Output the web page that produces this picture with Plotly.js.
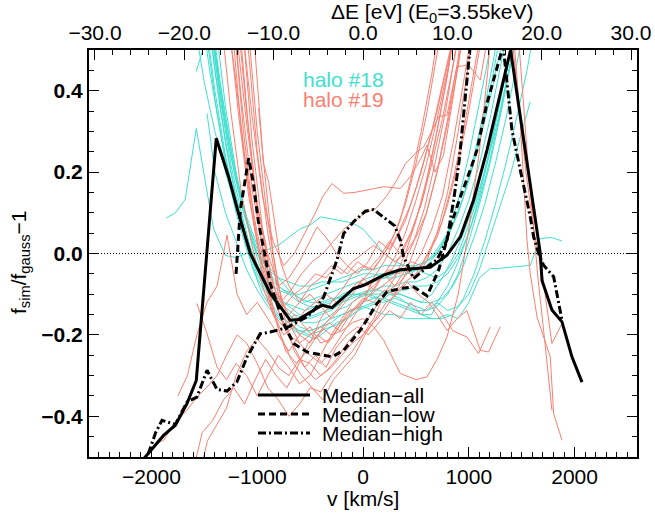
<!DOCTYPE html>
<html>
<head>
<meta charset="utf-8">
<script src="https://cdn.plot.ly/plotly-3.0.1.min.js"></script>
<style>html,body{margin:0;padding:0;background:#fff;}#chart{width:655px;height:514px;}</style>
</head>
<body>
<div id="chart"></div>
<script>
// ---- Median curves (v in km/s, y = f_sim/f_gauss - 1) ----
const medAllV = [-2150,-1885,-1774,-1664,-1576,-1387,-1270,-1176,-1065,-876,-688,-611,-388,-293,-89,6,195,353,636,794,920,1045,1172,1395,1676,1692,1786,1881,1975,2070];
const medAllY = [-0.528,-0.447,-0.422,-0.369,-0.312,0.283,0.188,0.098,0.0,-0.098,-0.164,-0.162,-0.127,-0.133,-0.086,-0.078,-0.053,-0.04,-0.034,-0.004,0.041,0.131,0.254,0.5,0.0,-0.066,-0.139,-0.168,-0.254,-0.316];

const medLowV = [-1200,-1160,-1081,-1034,-990,-939,-876,-750,-656,-529,-372,-293,-183,-26,132,227,353,478,605,715,825,920,1014,1077,1172,1314,1345];
const medLowY = [-0.05,0.106,0.234,0.17,0.08,0.008,-0.074,-0.172,-0.221,-0.242,-0.25,-0.254,-0.238,-0.189,-0.123,-0.094,-0.086,-0.082,-0.104,-0.041,0.065,0.139,0.205,0.254,0.369,0.5,0.56];

const medHighV = [-2080,-1960,-1900,-1774,-1664,-1570,-1474,-1380,-1285,-1191,-1096,-971,-876,-718,-600,-529,-450,-372,-246,-183,-89,22,100,195,300,353,384,416,478,605,700,794,857,910,960,1010,1100,1250,1329,1408,1487,1581,1613,1660,1707,1802,1881];
const medHighY = [-0.53,-0.44,-0.41,-0.42,-0.365,-0.353,-0.287,-0.334,-0.338,-0.315,-0.254,-0.197,-0.193,-0.182,-0.165,-0.156,-0.135,-0.107,-0.016,0.049,0.078,0.104,0.108,0.09,0.068,0.033,-0.008,-0.025,-0.062,-0.033,-0.015,0.033,0.131,0.23,0.37,0.5,0.7,0.7,0.5,0.303,0.205,0.09,0.041,0.0,-0.029,-0.057,-0.164];

// ---- Individual realisations, halo #18 (cyan): [v, y] pairs ----
const halo18Lines = [
 [[-1500,0.66],[-1400,0.45],[-1300,0.27],[-1200,0.14],[-1100,0.04],[-1000,-0.03],[-900,-0.08],[-800,-0.11],[-700,-0.13],[-600,-0.15],[-500,-0.16],[-400,-0.15],[-300,-0.14],[-200,-0.12],[-100,-0.11],[0,-0.1],[100,-0.09],[200,-0.08],[300,-0.08],[400,-0.07],[500,-0.07],[600,-0.06],[700,-0.04],[800,0.0],[900,0.06],[1000,0.13],[1100,0.22],[1200,0.33],[1300,0.46],[1400,0.6]],
 [[-1500,0.58],[-1400,0.38],[-1300,0.22],[-1200,0.1],[-1100,0.01],[-1000,-0.06],[-900,-0.11],[-800,-0.15],[-700,-0.17],[-600,-0.19],[-500,-0.2],[-400,-0.19],[-300,-0.18],[-200,-0.17],[-100,-0.15],[0,-0.13],[100,-0.12],[200,-0.12],[300,-0.11],[400,-0.12],[500,-0.13],[600,-0.14],[700,-0.13],[800,-0.1],[900,-0.05],[1000,0.03],[1100,0.12],[1200,0.22],[1300,0.34],[1400,0.47],[1500,0.6]],
 [[-1450,0.6],[-1350,0.4],[-1250,0.24],[-1150,0.12],[-1050,0.03],[-950,-0.03],[-850,-0.07],[-750,-0.09],[-650,-0.1],[-550,-0.12],[-450,-0.11],[-350,-0.1],[-250,-0.09],[-150,-0.08],[-50,-0.07],[50,-0.06],[150,-0.05],[250,-0.05],[350,-0.04],[450,-0.05],[550,-0.03],[650,-0.01],[750,0.02],[850,0.07],[950,0.14],[1050,0.24],[1150,0.36],[1250,0.5],[1350,0.64]],
 [[-1450,0.55],[-1350,0.36],[-1250,0.2],[-1150,0.07],[-1050,-0.03],[-950,-0.1],[-850,-0.14],[-750,-0.17],[-650,-0.19],[-550,-0.2],[-450,-0.21],[-350,-0.19],[-250,-0.17],[-150,-0.16],[-50,-0.14],[50,-0.13],[150,-0.12],[250,-0.1],[350,-0.1],[450,-0.11],[550,-0.12],[650,-0.1],[750,-0.06],[850,-0.01],[950,0.05],[1050,0.12],[1150,0.2],[1250,0.3],[1350,0.41],[1450,0.53]],
 [[-1400,0.58],[-1300,0.36],[-1200,0.2],[-1100,0.08],[-1000,0.0],[-900,-0.04],[-800,-0.06],[-700,-0.07],[-600,-0.08],[-500,-0.08],[-400,-0.07],[-300,-0.07],[-200,-0.06],[-100,-0.05],[0,-0.04],[100,-0.04],[200,-0.03],[300,-0.03],[400,-0.03],[500,-0.03],[600,-0.02],[700,0.0],[800,0.04],[900,0.1],[1000,0.18],[1100,0.28],[1200,0.4],[1300,0.54]],
 [[-1550,0.64],[-1450,0.45],[-1350,0.3],[-1250,0.17],[-1150,0.07],[-1050,-0.01],[-950,-0.07],[-850,-0.11],[-750,-0.14],[-650,-0.16],[-550,-0.17],[-450,-0.17],[-350,-0.16],[-250,-0.14],[-150,-0.13],[-50,-0.11],[50,-0.1],[150,-0.1],[250,-0.09],[350,-0.1],[450,-0.11],[550,-0.12],[650,-0.12],[750,-0.11],[850,-0.08],[950,-0.03],[1050,0.04],[1150,0.12],[1250,0.22],[1350,0.33],[1450,0.46],[1550,0.6]],
 [[-1450,0.62],[-1350,0.42],[-1250,0.26],[-1150,0.13],[-1050,0.03],[-950,-0.05],[-850,-0.1],[-750,-0.13],[-650,-0.15],[-550,-0.16],[-450,-0.15],[-350,-0.14],[-250,-0.13],[-150,-0.11],[-50,-0.1],[50,-0.09],[150,-0.09],[250,-0.1],[350,-0.11],[450,-0.13],[550,-0.15],[650,-0.16],[750,-0.16],[850,-0.15],[950,-0.11],[1050,-0.05],[1150,0.03],[1250,0.12],[1350,0.22],[1450,0.33],[1550,0.45],[1620,0.55]],
 [[-1500,0.7],[-1400,0.48],[-1300,0.31],[-1200,0.18],[-1100,0.08],[-1000,0.01],[-900,-0.04],[-800,-0.08],[-700,-0.1],[-600,-0.12],[-500,-0.13],[-400,-0.13],[-300,-0.12],[-200,-0.1],[-100,-0.09],[0,-0.08],[100,-0.07],[200,-0.06],[300,-0.06],[400,-0.05],[500,-0.04],[600,-0.05],[700,-0.06],[800,-0.04],[900,0.0],[1000,0.07],[1100,0.15],[1200,0.26],[1300,0.38],[1400,0.52]],
 [[-1400,0.5],[-1300,0.33],[-1200,0.19],[-1100,0.09],[-1000,0.02],[-900,-0.03],[-800,-0.06],[-700,-0.09],[-600,-0.11],[-500,-0.12],[-400,-0.12],[-300,-0.11],[-200,-0.11],[-100,-0.1],[0,-0.1],[100,-0.11],[200,-0.11],[300,-0.12],[400,-0.13],[500,-0.14],[600,-0.14],[700,-0.12],[800,-0.08],[900,-0.02],[1000,0.05],[1100,0.14],[1200,0.25],[1300,0.38],[1400,0.5],[1480,0.6]],
 [[-1500,0.6],[-1400,0.4],[-1300,0.24],[-1200,0.12],[-1100,0.02],[-1000,-0.05],[-900,-0.1],[-800,-0.13],[-700,-0.16],[-600,-0.18],[-500,-0.19],[-400,-0.18],[-300,-0.16],[-200,-0.15],[-100,-0.14],[0,-0.12],[100,-0.11],[200,-0.1],[300,-0.09],[400,-0.09],[500,-0.08],[600,-0.08],[700,-0.07],[800,-0.05],[900,-0.01],[1000,0.05],[1100,0.13],[1200,0.23],[1300,0.35],[1400,0.48],[1500,0.62]],
 [[-1860,0.087],[-1774,0.1],[-1680,0.133],[-1576,0.307],[-1480,0.16],[-1412,0.06],[-1360,0.03],[-1300,-0.005],[-1200,-0.01],[-1100,0.0],[-1000,0.0],[-900,0.01],[-800,0.02],[-700,0.04],[-600,0.06],[-500,0.07],[-400,0.09],[-300,0.085],[-200,0.08],[-100,0.075],[0,0.06],[100,0.03],[200,0.0],[300,-0.02],[400,-0.03],[500,-0.04],[600,-0.03],[700,0.0],[800,0.05],[900,0.13],[1000,0.24],[1100,0.37],[1200,0.5],[1260,0.6]],
 [[-1576,0.447],[-1480,0.53]],
 [[-1474,0.344],[-1400,0.2],[-1300,0.1],[-1200,0.03],[-1100,-0.04],[-1000,-0.09],[-900,-0.13],[-800,-0.16],[-700,-0.18],[-600,-0.19],[-500,-0.19],[-400,-0.18],[-300,-0.17],[-200,-0.15],[-100,-0.14],[0,-0.13],[100,-0.14],[200,-0.15],[300,-0.15],[400,-0.16],[500,-0.16],[600,-0.16],[700,-0.16],[800,-0.15],[900,-0.16],[1000,-0.12],[1100,-0.06],[1203,-0.037],[1266,-0.037],[1424,-0.033],[1581,-0.029],[1644,0.016],[1676,0.037],[1786,0.039],[1881,0.031]],
 [[-1450,0.58],[-1350,0.38],[-1250,0.22],[-1150,0.1],[-1050,0.0],[-950,-0.06],[-850,-0.1],[-750,-0.12],[-650,-0.13],[-550,-0.14],[-450,-0.13],[-350,-0.12],[-250,-0.11],[-150,-0.1],[-50,-0.1],[50,-0.1],[150,-0.11],[250,-0.12],[350,-0.13],[450,-0.14],[550,-0.15],[650,-0.15],[700,-0.12],[800,-0.14],[900,-0.13],[1000,-0.1],[1100,-0.04],[1200,0.04],[1300,0.12],[1400,0.2],[1480,0.28],[1581,0.373]],
 [[-1600,0.58],[-1500,0.42],[-1400,0.3],[-1300,0.2],[-1200,0.11],[-1100,0.03],[-1000,-0.03],[-900,-0.07],[-800,-0.09],[-700,-0.1],[-600,-0.1],[-500,-0.09],[-400,-0.08],[-300,-0.07],[-200,-0.07],[-100,-0.06],[0,-0.05],[100,-0.05],[200,-0.06],[300,-0.05],[400,-0.04],[500,-0.03],[600,-0.02],[700,0.01],[800,0.05],[900,0.1],[1000,0.18],[1100,0.27],[1200,0.38],[1300,0.5],[1400,0.62]]
];

// ---- Individual realisations, halo #19 (salmon): [v, y] pairs ----
const halo19Lines = [
 [[-1300,0.62],[-1200,0.42],[-1100,0.2],[-1000,0.05],[-900,-0.06],[-800,-0.14],[-700,-0.2],[-600,-0.22],[-500,-0.25],[-400,-0.27],[-300,-0.24],[-200,-0.2],[-100,-0.16],[0,-0.12],[100,-0.06],[200,-0.02],[300,0.03],[400,0.08],[500,0.16],[600,0.25],[700,0.35],[800,0.46],[900,0.58]],
 [[-1250,0.65],[-1150,0.38],[-1050,0.16],[-950,0.02],[-850,-0.1],[-750,-0.18],[-650,-0.23],[-550,-0.28],[-450,-0.31],[-350,-0.29],[-250,-0.26],[-150,-0.22],[-50,-0.19],[50,-0.16],[150,-0.12],[250,-0.09],[350,-0.07],[450,-0.04],[550,0.0],[650,0.06],[750,0.14],[850,0.27],[950,0.42],[1050,0.58]],
 [[-1200,0.55],[-1100,0.32],[-1000,0.12],[-900,0.0],[-800,-0.08],[-700,-0.06],[-600,-0.02],[-500,0.03],[-435,0.065],[-350,0.04],[-250,0.0],[-150,-0.03],[-50,-0.05],[50,-0.02],[150,0.03],[250,0.01],[350,0.06],[450,0.12],[550,0.2],[650,0.3],[750,0.41],[850,0.53]],
 [[-1150,0.58],[-1050,0.34],[-950,0.14],[-850,0.03],[-750,-0.03],[-650,0.0],[-550,0.05],[-450,0.1],[-380,0.14],[-293,0.172],[-183,0.148],[-80,0.15],[38,0.156],[195,0.164],[353,0.16],[450,0.19],[540,0.23],[605,0.266],[680,0.2],[760,0.24],[850,0.38],[930,0.52]],
 [[-1280,0.6],[-1180,0.35],[-1080,0.14],[-980,0.0],[-880,-0.09],[-780,-0.12],[-680,-0.09],[-580,-0.05],[-480,-0.02],[-380,0.0],[-280,0.03],[-180,0.06],[-80,0.08],[20,0.1],[120,0.11],[220,0.14],[320,0.18],[400,0.22],[494,0.246],[573,0.262],[650,0.3],[715,0.336],[794,0.34],[888,0.459],[998,0.463],[1109,0.426],[1190,0.55]],
 [[-987,0.357],[-940,0.22],[-892,0.176],[-840,0.08],[-780,-0.02],[-700,-0.08],[-600,-0.12],[-500,-0.1],[-400,-0.13],[-300,-0.16],[-200,-0.13],[-100,-0.1],[0,-0.06],[100,-0.09],[200,-0.05],[300,-0.08],[400,-0.04],[500,-0.06],[600,-0.02],[700,0.05],[800,0.15],[900,0.3],[1000,0.47],[1050,0.6]],
 [[-1350,0.6],[-1250,0.35],[-1150,0.15],[-1050,0.02],[-950,-0.08],[-850,-0.15],[-750,-0.18],[-650,-0.15],[-550,-0.18],[-450,-0.21],[-350,-0.17],[-250,-0.14],[-150,-0.1],[-50,-0.08],[50,-0.05],[150,-0.02],[250,0.02],[350,0.08],[450,0.18],[550,0.3],[650,0.44],[720,0.56]],
 [[-1230,0.6],[-1130,0.3],[-1030,0.08],[-930,-0.06],[-830,-0.16],[-730,-0.24],[-630,-0.27],[-530,-0.24],[-430,-0.2],[-330,-0.22],[-230,-0.18],[-130,-0.14],[-30,-0.13],[70,-0.1],[170,-0.06],[270,-0.04],[370,0.0],[470,0.06],[570,0.14],[670,0.26],[770,0.4],[870,0.55]],
 [[-1100,0.55],[-1000,0.25],[-900,0.05],[-800,-0.1],[-700,-0.15],[-600,-0.12],[-500,-0.08],[-400,-0.06],[-300,-0.03],[-200,-0.05],[-100,-0.02],[0,0.0],[100,0.02],[200,0.0],[300,-0.02],[400,0.0],[500,0.04],[600,0.1],[700,0.2],[800,0.33],[900,0.48],[950,0.6]],
 [[-1570,-0.123],[-1474,-0.197],[-1380,-0.279],[-1290,-0.31],[-1200,-0.27],[-1100,-0.3],[-1000,-0.35],[-900,-0.3],[-800,-0.25],[-700,-0.28],[-600,-0.32],[-500,-0.3],[-400,-0.25],[-300,-0.2],[-200,-0.16],[-100,-0.12],[0,-0.1],[100,-0.08],[200,-0.05],[300,-0.01],[400,0.05],[500,0.13],[600,0.22],[700,0.33],[800,0.45],[880,0.58]],
 [[-1963,-0.467],[-1884,-0.459],[-1774,-0.414],[-1664,-0.385],[-1570,-0.353],[-1474,-0.328],[-1380,-0.3],[-1290,-0.25],[-1190,-0.2],[-1100,-0.22],[-1000,-0.27],[-900,-0.33],[-800,-0.36],[-700,-0.4],[-600,-0.37],[-500,-0.33],[-400,-0.34],[-300,-0.3],[-200,-0.27],[-100,-0.24],[0,-0.2],[100,-0.17],[200,-0.14],[300,-0.1],[400,-0.05],[500,0.02],[600,0.1],[700,0.2],[800,0.32],[900,0.46],[980,0.6]],
 [[-1620,-0.55],[-1520,-0.44],[-1420,-0.41],[-1320,-0.36],[-1220,-0.33],[-1120,-0.37],[-1020,-0.31],[-920,-0.26],[-820,-0.3],[-720,-0.33],[-620,-0.28],[-520,-0.22],[-420,-0.2],[-320,-0.17],[-220,-0.19],[-120,-0.15],[-20,-0.12],[80,-0.1],[180,-0.08],[280,-0.06],[380,-0.03],[480,0.03],[580,0.11],[680,0.22],[780,0.35],[880,0.5],[940,0.6]],
 [[-1100,0.6],[-1000,0.3],[-900,0.08],[-800,-0.08],[-700,-0.17],[-600,-0.22],[-500,-0.2],[-400,-0.18],[-300,-0.2],[-200,-0.19],[-100,-0.17],[0,-0.16],[100,-0.18],[195,-0.213],[353,-0.295],[500,-0.31],[605,-0.303],[700,-0.26],[794,-0.205],[900,-0.1],[1000,0.06],[1100,0.25],[1180,0.45],[1230,0.6]],
 [[-1050,0.6],[-950,0.25],[-850,0.0],[-750,-0.15],[-650,-0.24],[-550,-0.28],[-450,-0.25],[-350,-0.28],[-250,-0.23],[-150,-0.2],[-50,-0.18],[50,-0.2],[150,-0.17],[250,-0.14],[350,-0.16],[450,-0.12],[550,-0.15],[650,-0.12],[750,-0.15],[850,-0.19],[982,-0.205],[1092,-0.246],[1203,-0.18]],
 [[-1180,0.6],[-1080,0.3],[-980,0.06],[-880,-0.1],[-780,-0.2],[-680,-0.26],[-580,-0.3],[-480,-0.33],[-380,-0.36],[-280,-0.31],[-180,-0.28],[-80,-0.25],[20,-0.2],[120,-0.16],[220,-0.12],[320,-0.1],[420,-0.07],[520,-0.1],[620,-0.12],[700,-0.15],[794,-0.189],[890,-0.16],[982,-0.14],[1109,-0.238],[1187,-0.242],[1297,-0.18]],
 [[-1560,-0.56],[-1470,-0.46],[-1380,-0.42],[-1290,-0.38],[-1200,-0.3],[-1100,-0.24],[-1000,-0.21],[-900,-0.24],[-800,-0.28],[-700,-0.3],[-600,-0.26],[-500,-0.27],[-400,-0.3],[-300,-0.28],[-200,-0.25],[-100,-0.22],[0,-0.2],[100,-0.16],[200,-0.1],[300,-0.06],[400,0.0],[500,0.08],[600,0.18],[700,0.3],[800,0.44],[880,0.58]],
 [[-1750,-0.35],[-1660,-0.3],[-1570,-0.2],[-1475,-0.12],[-1380,-0.08],[-1285,0.045],[-1190,-0.1],[-1100,-0.15],[-1000,-0.12],[-900,-0.16],[-800,-0.2],[-700,-0.24],[-600,-0.2],[-500,-0.22],[-400,-0.16],[-300,-0.12],[-200,-0.09],[-100,-0.05],[0,-0.03],[100,-0.04],[200,0.0],[300,0.05],[400,0.12],[500,0.22],[600,0.34],[700,0.48],[760,0.58]],
 [[-1250,0.6],[-1150,0.3],[-1050,0.1],[-950,-0.05],[-850,-0.15],[-750,-0.2],[-650,-0.18],[-550,-0.14],[-450,-0.12],[-350,-0.1],[-250,-0.12],[-150,-0.1],[-50,-0.07],[50,-0.08],[150,-0.06],[250,-0.04],[350,-0.05],[450,-0.02],[550,-0.03],[650,0.02],[750,0.08],[850,0.18],[950,0.3],[1050,0.45],[1150,0.6],[1300,0.7],[1380,0.6],[1460,0.4],[1540,0.2],[1620,0.05],[1700,-0.06],[1786,-0.221],[1881,-0.172]],
 [[-1200,0.62],[-1100,0.35],[-1000,0.12],[-900,-0.02],[-800,-0.12],[-700,-0.16],[-600,-0.2],[-500,-0.18],[-400,-0.22],[-300,-0.21],[-200,-0.17],[-100,-0.14],[0,-0.11],[100,-0.12],[200,-0.09],[300,-0.1],[400,-0.07],[500,-0.05],[600,-0.01],[700,0.04],[800,0.12],[900,0.22],[1000,0.35],[1100,0.5],[1200,0.65],[1350,0.7],[1420,0.55],[1480,0.35],[1550,0.033],[1581,-0.05],[1645,-0.156],[1770,-0.254],[1802,-0.393],[1881,-0.459]],
 [[-1150,0.6],[-1050,0.28],[-950,0.06],[-850,-0.08],[-750,-0.13],[-650,-0.1],[-550,-0.08],[-450,-0.05],[-350,-0.06],[-250,-0.03],[-150,-0.05],[-50,-0.02],[50,-0.04],[150,-0.01],[250,0.03],[350,0.0],[450,0.05],[550,0.12],[650,0.22],[750,0.33],[850,0.46],[950,0.6],[1200,0.8],[1450,0.6],[1550,0.254],[1650,-0.05],[1720,-0.22],[1786,-0.385]]
];

// ---- Axis / label text ----
const xTitle = 'v [km/s]';
const x2Title = '\u0394E [eV] (E<sub>0</sub>=3.55keV)';
const yTitle = 'f<sub>sim</sub>/f<sub>gauss</sub>\u22121';
const seriesNames = ['Median\u2212all','Median\u2212low','Median\u2212high'];
const haloNames = ['halo #18','halo #19'];

const CYAN = '#40E0D0', SALMON = '#FA8072';
const FONT = 'Liberation Sans, Arial, Helvetica, sans-serif';

const traces = [];
halo18Lines.forEach(l => traces.push({x:l.map(p=>p[0]), y:l.map(p=>p[1]), mode:'lines', line:{color:CYAN, width:1}, hoverinfo:'skip', showlegend:false}));
halo19Lines.forEach(l => traces.push({x:l.map(p=>p[0]), y:l.map(p=>p[1]), mode:'lines', line:{color:SALMON, width:1}, hoverinfo:'skip', showlegend:false}));
traces.push({x:medLowV, y:medLowY, mode:'lines', name:seriesNames[1], line:{color:'black', width:3, dash:'7px,4px'}});
traces.push({x:medHighV, y:medHighY, mode:'lines', name:seriesNames[2], line:{color:'black', width:3, dash:'8px,3px,2px,3px'}});
traces.push({x:medAllV, y:medAllY, mode:'lines', name:seriesNames[0], line:{color:'black', width:3}});
// empty trace that attaches the top (energy) axis
traces.push({x:[], y:[], xaxis:'x2', yaxis:'y', mode:'lines', hoverinfo:'skip', showlegend:false});

const L = 89, T = 50, W = 548, H = 407;
const px = x => (x - L) / W;
const py = y => (T + H - y) / H;

const tickFont = {family:FONT, size:21, color:'black'};
const axisCommon = {showgrid:false, zeroline:false, showline:true, linecolor:'black', linewidth:2,
  ticks:'inside', ticklen:10, tickwidth:1, tickcolor:'black'};

const legY = [395, 414, 433];
const legDash = ['solid', '7px,4px', '8px,3px,2px,3px'];
const shapes = [
  {type:'line', xref:'paper', yref:'y', x0:0, x1:1, y0:0, y1:0, line:{color:'black', width:1, dash:'1px,2px'}}
];
legY.forEach((yy,i) => shapes.push({type:'line', xref:'paper', yref:'paper', x0:px(258), x1:px(310), y0:py(yy), y1:py(yy), line:{color:'black', width:3, dash:legDash[i]}}));

const annotations = [
  {text:xTitle, xref:'paper', yref:'paper', x:0.5, y:py(498), showarrow:false, xanchor:'center', yanchor:'middle', font:{family:FONT, size:21, color:'black'}},
  {text:x2Title, xref:'paper', yref:'paper', x:px(432), y:py(13), showarrow:false, xanchor:'center', yanchor:'middle', font:{family:FONT, size:21, color:'black'}},
  {text:yTitle, xref:'paper', yref:'paper', x:px(20), y:py(262), showarrow:false, xanchor:'center', yanchor:'middle', textangle:-90, font:{family:FONT, size:21, color:'black'}},
  {text:haloNames[0], xref:'paper', yref:'paper', x:px(301), y:py(79), showarrow:false, xanchor:'left', yanchor:'middle', font:{family:FONT, size:21, color:CYAN}},
  {text:haloNames[1], xref:'paper', yref:'paper', x:px(301), y:py(99), showarrow:false, xanchor:'left', yanchor:'middle', font:{family:FONT, size:21, color:SALMON}}
];
legY.forEach((yy,i) => annotations.push({text:seriesNames[i], xref:'paper', yref:'paper', x:px(320), y:py(yy), showarrow:false, xanchor:'left', yanchor:'middle', font:{family:FONT, size:21, color:'black'}}));

const layout = {
  width:655, height:514,
  margin:{l:L, r:655-L-W, t:T, b:514-T-H, pad:0},
  paper_bgcolor:'white', plot_bgcolor:'white',
  showlegend:false,
  font:{family:FONT, color:'black'},
  xaxis:Object.assign({}, axisCommon, {range:[-2590,2590], tickmode:'linear', tick0:0, dtick:1000, tickformat:'d',
    tickfont:tickFont, mirror:false,
    minor:{dtick:100, tick0:0, ticks:'inside', ticklen:5, tickwidth:1, tickcolor:'black', showgrid:false}}),
  xaxis2:Object.assign({}, axisCommon, {overlaying:'x', side:'top', anchor:'y', range:[-30.67,30.67], tickmode:'linear', tick0:0, dtick:10, tickformat:'.1f',
    tickfont:tickFont,
    minor:{dtick:2, tick0:0, ticks:'inside', ticklen:5, tickwidth:1, tickcolor:'black', showgrid:false}}),
  yaxis:Object.assign({}, axisCommon, {range:[-0.5,0.5], tickmode:'linear', tick0:0, dtick:0.2, tickformat:'.1f', mirror:'ticks',
    tickfont:{family:FONT, size:21, color:'black', weight:'bold'},
    minor:{dtick:0.05, tick0:0, ticks:'inside', ticklen:5, tickwidth:1, tickcolor:'black', showgrid:false}}),
  shapes:shapes,
  annotations:annotations
};

Plotly.newPlot('chart', traces, layout, {staticPlot:true, displayModeBar:false});
</script>
</body>
</html>
